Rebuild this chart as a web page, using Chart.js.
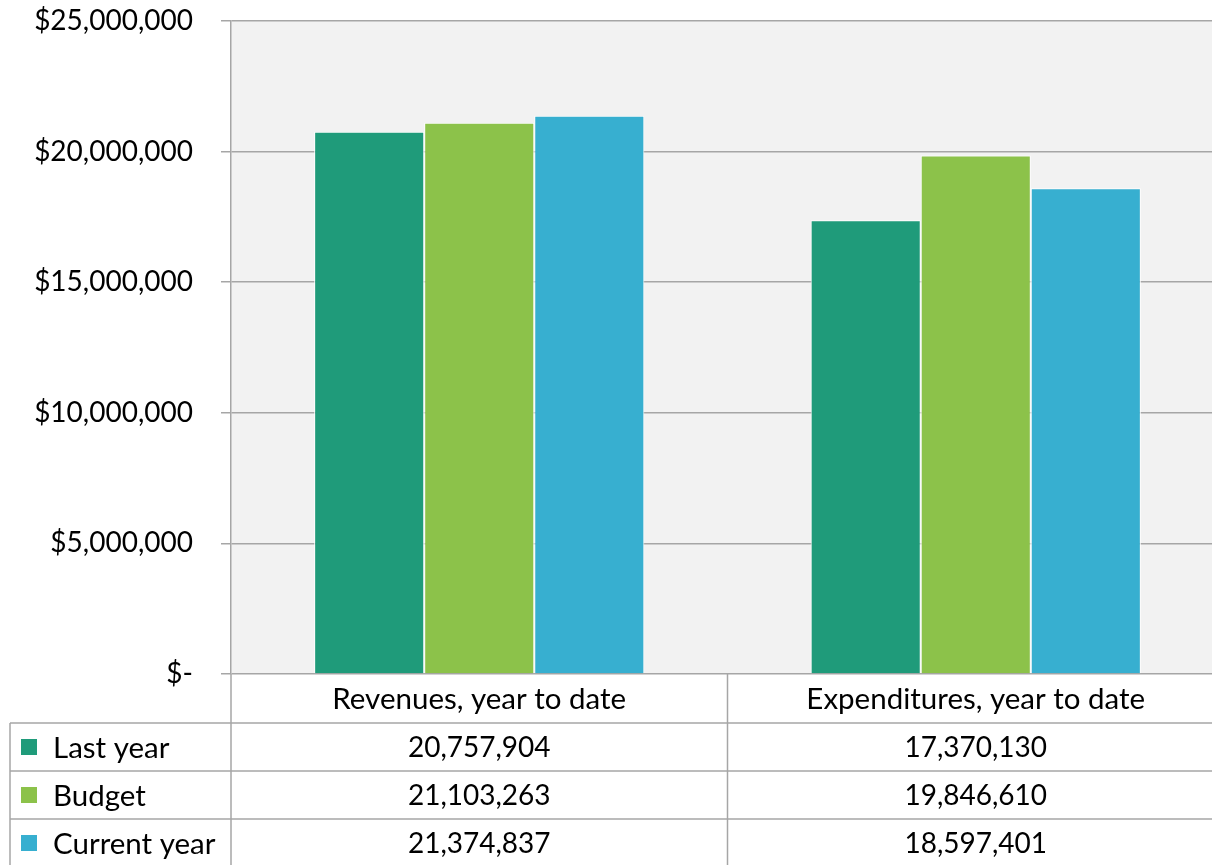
<!DOCTYPE html>
<html>
<head>
<meta charset="utf-8">
<script src="https://cdn.jsdelivr.net/npm/chart.js@4/dist/chart.umd.min.js"></script>
<style>
  html, body { margin: 0; padding: 0; overflow: hidden; background: #fff; }
  #wrap { width: 1224px; height: 865px; }
</style>
</head>
<body>
<div id="wrap"><canvas id="budgetChart"></canvas></div>
<script>
// Data
const categories = ['Revenues, year to date', 'Expenditures, year to date'];
const seriesNames = ['Last year', 'Budget', 'Current year'];
const lastYear = [20757904, 17370130];
const budget = [21103263, 19846610];
const currentYear = [21374837, 18597401];
const yTickValues = [0, 5000000, 10000000, 15000000, 20000000, 25000000];

// Colors
const tealColor = '#1f9b7a',
  greenColor = '#8cc24a',
  blueColor = '#37afd0',
  plotBgColor = '#f2f2f2',
  lineColor = '#a6a6a6',
  textColor = '#000000';

const fontFamily = 'Lato, "Open Sans", sans-serif';
const numberSize = 28;
const labelSize = 29.5;
const rowHeight = 48;

const seriesValues = [lastYear, budget, currentYear];
const seriesColors = [tealColor, greenColor, blueColor];

function money(v) {
  return v === 0 ? '$-' : '$' + v.toLocaleString('en-US');
}

// Plot background behind the bars
const plotBackground = {
  id: 'plotBackground',
  beforeDraw(chart) {
    const { ctx, chartArea } = chart;
    ctx.save();
    ctx.fillStyle = plotBgColor;
    ctx.fillRect(chartArea.left, chartArea.top, chartArea.right - chartArea.left, chartArea.bottom - chartArea.top);
    ctx.restore();
  }
};

// Data table under the x axis: legend keys plus one column per category
const dataTable = {
  id: 'dataTable',
  afterDraw(chart) {
    const { ctx, chartArea } = chart;
    const x = chart.scales.x;
    const top = chartArea.bottom;
    const headerBottom = top + 49;
    const tableLeft = 10;
    const right = x.right;
    const bottom = headerBottom + rowHeight * seriesNames.length;
    const n = chart.data.labels.length;
    const colEdges = [];
    for (let i = 0; i <= n; i++) {
      colEdges.push(x.left + (x.right - x.left) * i / n);
    }

    ctx.save();
    ctx.strokeStyle = lineColor;
    ctx.lineWidth = 1.5;

    // horizontal rules
    ctx.beginPath();
    for (let r = 0; r <= seriesNames.length; r++) {
      const y = headerBottom + r * rowHeight;
      ctx.moveTo(tableLeft, y);
      ctx.lineTo(right, y);
    }
    // vertical rules
    ctx.moveTo(tableLeft, headerBottom);
    ctx.lineTo(tableLeft, bottom);
    colEdges.forEach(function(cx) {
      ctx.moveTo(cx, top);
      ctx.lineTo(cx, bottom);
    });
    ctx.stroke();

    ctx.fillStyle = textColor;
    ctx.textBaseline = 'middle';

    chart.data.datasets.forEach(function(ds, r) {
      const cy = headerBottom + r * rowHeight + rowHeight / 2;
      // legend key
      ctx.fillStyle = ds.backgroundColor;
      ctx.fillRect(21, cy - 8, 16, 16);
      ctx.fillStyle = textColor;
      ctx.textAlign = 'left';
      ctx.font = labelSize + 'px ' + fontFamily;
      ctx.fillText(ds.label, 53, cy + 1);
      // values
      ctx.textAlign = 'center';
      ctx.font = numberSize + 'px ' + fontFamily;
      ds.data.forEach(function(v, i) {
        ctx.fillText(v.toLocaleString('en-US'), x.getPixelForValue(i), cy + 1);
      });
    });
    ctx.restore();
  }
};

const chartEl = document.getElementById('budgetChart');
new Chart(chartEl, {
  type: 'bar',
  data: {
    labels: categories,
    datasets: seriesNames.map(function(name, i) {
      return {
        label: name,
        data: seriesValues[i],
        backgroundColor: seriesColors[i],
        borderColor: '#ffffff',
        borderWidth: 1,
        borderSkipped: 'bottom',
        categoryPercentage: 0.665,
        barPercentage: 1.0
      };
    })
  },
  options: {
    responsive: true,
    maintainAspectRatio: false,
    animation: false,
    layout: {
      padding: { top: 21, left: 0, right: 0, bottom: 0 }
    },
    plugins: {
      legend: { display: false },
      tooltip: { enabled: false }
    },
    scales: {
      x: {
        grid: { display: false },
        border: { display: false },
        ticks: {
          color: textColor,
          font: { family: fontFamily, size: labelSize },
          padding: 0,
          maxRotation: 0
        },
        afterFit: function(scale) {
          scale.height = 191;
        }
      },
      y: {
        min: 0,
        max: 25000000,
        grid: {
          color: lineColor,
          lineWidth: 1.5,
          tickLength: 10
        },
        border: { display: true, color: lineColor, width: 1.5 },
        afterBuildTicks: function(scale) {
          scale.ticks = yTickValues.map(function(v) { return { value: v }; });
        },
        ticks: {
          color: textColor,
          font: { family: fontFamily, size: numberSize },
          padding: 28,
          callback: function(value) { return money(value); }
        },
        afterFit: function(scale) {
          scale.width = 231;
          scale.paddingTop = 0;
          scale.paddingBottom = 0;
        }
      }
    }
  },
  plugins: [plotBackground, dataTable]
});
</script>
</body>
</html>
